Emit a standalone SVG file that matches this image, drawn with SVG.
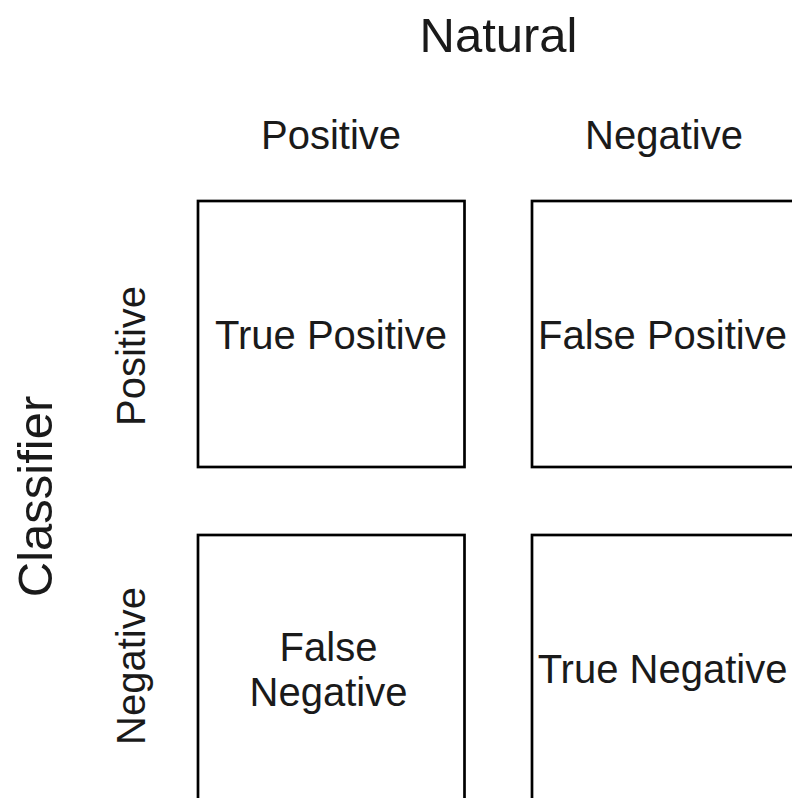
<svg xmlns="http://www.w3.org/2000/svg" width="792" height="798" viewBox="0 0 792 798">
  <style>
    .cell { fill: #ffffff; stroke: #000000; stroke-width: 2.7; }
    .lbl { font-family: "Liberation Sans", Arial, sans-serif; font-size: 40px; fill: #1a1a1a; text-anchor: middle; }
    .title { font-family: "Liberation Sans", Arial, sans-serif; font-size: 49px; fill: #1a1a1a; text-anchor: middle; }
  </style>
  <rect width="792" height="798" fill="#ffffff"/>

  <!-- axis titles -->
  <g id="axis-natural"><text class="title" x="498.5" y="52">Natural</text></g>
  <g id="axis-classifier"><text class="title" transform="translate(52,496.5) rotate(-90)">Classifier</text></g>

  <!-- column headers -->
  <g id="col-positive"><text class="lbl" x="331" y="149">Positive</text></g>
  <g id="col-negative"><text class="lbl" x="664" y="149">Negative</text></g>

  <!-- row headers -->
  <g id="row-positive"><text class="lbl" transform="translate(145,356) rotate(-90)">Positive</text></g>
  <g id="row-negative"><text class="lbl" transform="translate(145,666) rotate(-90)">Negative</text></g>

  <!-- matrix cells -->
  <g id="true-positive">
    <rect class="cell" x="198" y="201" width="266.5" height="266"/>
    <text class="lbl" x="331" y="349">True Positive</text>
  </g>
  <g id="false-positive">
    <rect class="cell" x="532" y="201" width="266.5" height="266"/>
    <text class="lbl" x="662.5" y="349">False Positive</text>
  </g>
  <g id="false-negative">
    <rect class="cell" x="198" y="535" width="266.5" height="266"/>
    <text class="lbl" x="328.5" y="661">False</text>
    <text class="lbl" x="328.5" y="706">Negative</text>
  </g>
  <g id="true-negative">
    <rect class="cell" x="532" y="535" width="266.5" height="266"/>
    <text class="lbl" x="662.5" y="683">True Negative</text>
  </g>

  <g id="connectors"/>
</svg>
